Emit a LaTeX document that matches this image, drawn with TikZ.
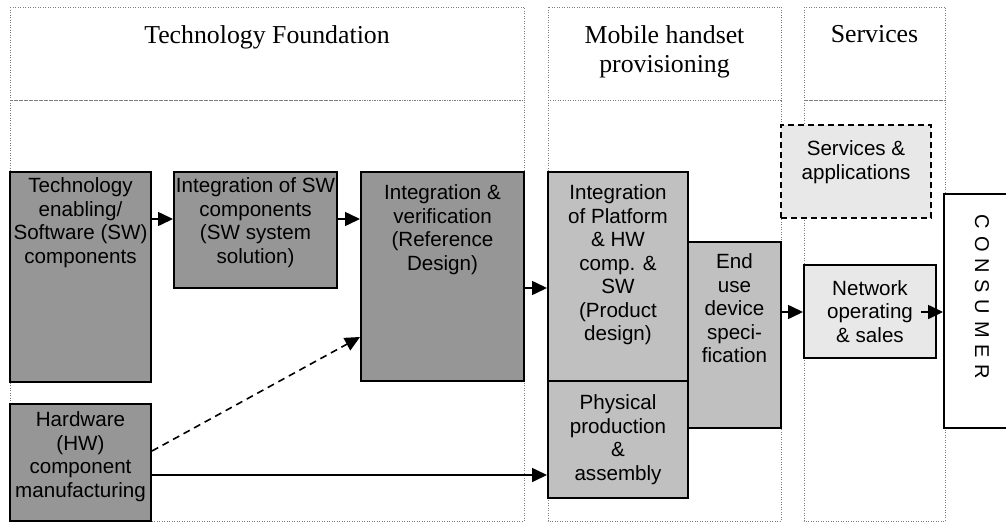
\documentclass[tikz,border=0pt]{standalone}
\usepackage{fontspec}
\setmainfont{Liberation Serif}
\newfontfamily\boxfont{Liberation Sans}
\newfontfamily\consfont[LetterSpace=34]{Liberation Sans}
\usetikzlibrary{arrows.meta}

\definecolor{darkfill}{RGB}{150,150,150}
\definecolor{midfill}{RGB}{192,192,192}
\definecolor{lightfill}{RGB}{232,232,232}
\definecolor{panelline}{RGB}{125,125,125}

\tikzset{
  panel/.style={draw=panelline, line width=1pt, dash pattern=on 1pt off 1.5pt},
  hdr/.style={font=\fontsize{25.8}{29.3}\selectfont, align=center, inner sep=0pt},
  box/.style={draw=black, line width=2pt, inner sep=0pt},
  darkbox/.style={box, fill=darkfill},
  midbox/.style={box, fill=midfill},
  lightbox/.style={box, fill=lightfill},
  txt/.style={font=\boxfont\fontsize{20.6}{23.5}\selectfont, align=center, inner sep=0pt},
  arr/.style={line width=1.6pt, -{Triangle[length=15pt,width=14pt]}},
  dasharr/.style={arr, dash pattern=on 7pt off 5pt},
}

\begin{document}
\begin{tikzpicture}[x=1pt, y=-1pt]
\path[use as bounding box, clip] (0,0) rectangle (1006,522);

% column panels: header strip and body
\draw[panel] (10,7) rectangle (524,100);
\draw[panel] (10,100) rectangle (524,521);
\draw[panel] (548,7) rectangle (781,100);
\draw[panel] (548,100) rectangle (781,521);
\draw[panel] (804,7) rectangle (945,100);
\draw[panel] (804,100) rectangle (945,521);

% column headings
\node[hdr, anchor=north] (h-tech) at (267,25.4) {Technology Foundation};
\node[hdr, anchor=north] (h-mob) at (664.5,25.4) {Mobile handset\\provisioning};
\node[hdr, anchor=north] (h-serv) at (874.5,25.4) {Services};

% technology foundation
\node[darkbox, minimum width=141, minimum height=210] (te) at (80.5,277) {};
\node[txt, anchor=north] (te-t) at (80.5,177.5) {Technology\\enabling/\\Software (SW)\\components};

\node[darkbox, minimum width=163, minimum height=116] (iosw) at (255.5,230) {};
\node[txt, anchor=north] (iosw-t) at (255.5,177.5) {Integration of SW\\components\\(SW system\\solution)};

\node[darkbox, minimum width=163, minimum height=209] (iv) at (442.5,276.5) {};
\node[txt, anchor=north] (iv-t) at (442.5,184.5) {Integration \&\\verification\\(Reference\\Design)};

\node[darkbox, minimum width=141, minimum height=117] (hw) at (80.5,462.5) {};
\node[txt, anchor=north] (hw-t) at (80.5,411.5) {Hardware\\(HW)\\component\\manufacturing};

% mobile handset provisioning
\node[midbox, minimum width=140, minimum height=209] (plat) at (618,276.5) {};
\node[txt, anchor=north] (plat-t) at (618,184.5) {Integration\\of Platform\\\& HW\\comp. \&\\SW\\(Product\\design)};

\node[midbox, minimum width=140, minimum height=117, txt] (phys) at (618,439.5) {Physical\\production\\\&\\assembly};

\node[midbox, minimum width=93, minimum height=186] (eu) at (734.5,335) {};
\node[txt, anchor=north] (eu-t) at (734.5,253.5) {End\\use\\device\\speci-\\fication};

% services
\node[lightbox, dash pattern=on 6pt off 4pt, minimum width=150, minimum height=93] (svc) at (856,171.5) {};
\node[txt, anchor=north] (svc-t) at (856,140.5) {Services \&\\applications};

\node[lightbox, minimum width=132, minimum height=93, txt] (net) at (870,311.5) {Network\\operating\\\& sales};

% consumer
\node[box, fill=white, minimum width=86, minimum height=234] (cons) at (987,311) {};
\node[font=\consfont\fontsize{20}{24}\selectfont, rotate=-90, inner sep=0pt] (cons-t) at (982,297) {CONSUMER};

% flows
\draw[arr] (te.east |- 0,219) -- (iosw.west |- 0,219);
\draw[arr] (iosw.east |- 0,219) -- (iv.west |- 0,219);
\draw[arr] (iv.east |- 0,288) -- (plat.west |- 0,288);
\draw[arr] (eu.east |- 0,312) -- (net.west |- 0,312);
\draw[arr] ([xshift=-16pt]net.east |- 0,312) -- (cons.west |- 0,312);
\draw[arr] (hw.east |- 0,475) -- (phys.west |- 0,475);
\draw[dasharr] (hw.east |- 0,451) -- (iv.west |- 0,337);
\end{tikzpicture}
\end{document}
